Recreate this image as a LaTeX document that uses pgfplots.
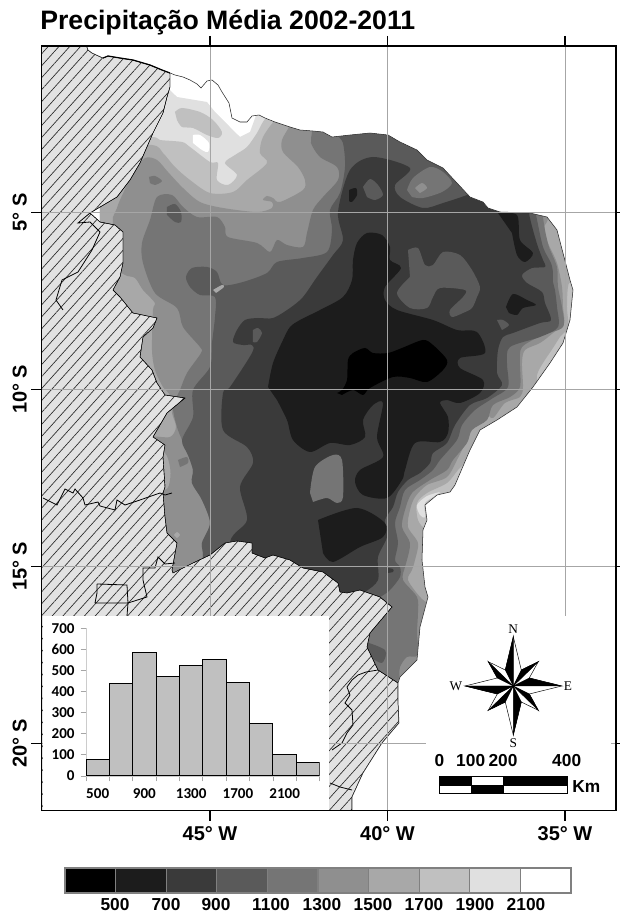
\documentclass[border=0pt]{standalone}
\usepackage{fontspec}
\setmainfont{Liberation Sans}
\newfontfamily\carlito{Carlito}
\newfontfamily\timesf{Liberation Serif}
\usepackage{pgfplots}
\pgfplotsset{compat=1.18}
\usetikzlibrary{patterns.meta}
\definecolor{c1}{HTML}{000000}
\definecolor{c2}{HTML}{1C1C1C}
\definecolor{c3}{HTML}{3A3A3A}
\definecolor{c4}{HTML}{5A5A5A}
\definecolor{c5}{HTML}{757575}
\definecolor{c6}{HTML}{8F8F8F}
\definecolor{c7}{HTML}{A8A8A8}
\definecolor{c8}{HTML}{C0C0C0}
\definecolor{c9}{HTML}{E0E0E0}
\definecolor{c10}{HTML}{FFFFFF}
\definecolor{hatchbg}{HTML}{E2E2E2}
\definecolor{hatchln}{HTML}{2A2A2A}
\definecolor{gridc}{HTML}{A6A6A6}
% positions on the picture are converted to degrees of longitude and latitude
\pgfplotsset{map/.style={x filter/.expression={-45+(x-210)/35.5},y filter/.expression={-5-(y-212.3)/35.4}}}
\newcommand\R[2]{\addplot[fill=#1,draw=none,map,smooth,tension=0.5] coordinates {#2} --cycle;}
\newcommand\Q[2]{\addplot[fill=#1,draw=none,map] coordinates {#2} --cycle;}
\newcommand\K[2]{\addplot[fill=#1,draw=black,line width=0.35pt,map] coordinates {#2} --cycle;}
\newcommand\B[1]{\addplot[draw=black,line width=0.6pt,map] coordinates {#1};}
\begin{document}
\begin{tikzpicture}
\useasboundingbox (0,0) rectangle (465pt,684.75pt);
\begin{axis}[
  at={(31.125pt,76.725pt)},anchor=south west,scale only axis,
  width=430.875pt,height=573.525pt,
  xmin=-49.7465,xmax=-33.563,ymin=-21.904,ymax=-0.302,
  axis on top,
  axis line style={line width=1.2pt,black},
  xtick={-45,-40,-35},xticklabels={45° W,40° W,35° W},
  ytick={-20,-15,-10,-5},yticklabels={20° S,15° S,10° S,5° S},
  tick align=outside,major tick length=7.5pt,
  tick style={line width=1.1pt,black},
  grid=major,grid style={draw=gridc,line width=0.5pt},
  xticklabel style={font=\fontsize{15}{17}\selectfont\bfseries,yshift=-1pt},
  yticklabel style={font=\fontsize{15}{17}\selectfont\bfseries,rotate=90,anchor=south,yshift=0pt},
]
% rainfall bands, driest on top
\Q{c9}{(100,90)(170,90)(177,97)(207,102)(215,112)(230,127)(240,137)(250,132)(258,110)(650,110)(650,760)(100,760)}
\R{c8}{(100,137)(152,137)(160,140)(182,142)(190,147)(210,162)(218,163)(217,180)(228,185)(237,175)(225,163)(235,155)(247,147)(257,133)(268,116)(300,100)(650,100)(650,760)(100,760)}
\R{c7}{(100,145)(152,145)(163,153)(175,167)(190,180)(210,193)(233,192)(247,180)(267,163)(260,153)(263,137)(277,118)(300,100)(650,100)(600,250)(572,280)(568,287)(567,307)(568,327)(560,337)(553,348)(543,363)(537,375)(535,395)(500,420)(490,430)(478,437)(477,443)(470,457)(458,470)(447,483)(427,493)(417,503)(418,520)(427,530)(450,535)(450,760)(100,760)}
\R{c6}{(117,208)(120,200)(133,173)(145,158)(157,160)(168,172)(183,188)(200,202)(223,208)(257,212)(272,208)(272,202)(263,200)(267,196)(273,198)(280,202)(303,190)(305,180)(298,167)(283,152)(282,140)(290,125)(300,100)(450,130)(540,190)(548,217)(544,228)(548,243)(557,263)(562,287)(563,307)(564,323)(553,333)(540,343)(525,350)(522,363)(523,387)(520,397)(505,403)(493,418)(485,413)(473,420)(468,437)(458,458)(447,477)(427,485)(415,497)(410,510)(408,527)(418,543)(415,560)(412,570)(408,580)(420,597)(430,605)(450,620)(450,760)(140,760)(140,490)(165,490)(170,480)(170,467)(165,453)(150,450)(150,437)(170,437)(176,427)(172,413)(170,395)(163,387)(155,370)(152,350)(153,310)(155,303)(143,290)(135,278)(125,275)(113,263)(113,217)}
\R{c5}{(200,600)(203,557)(202,543)(210,523)(202,500)(192,483)(193,470)(188,455)(182,440)(177,427)(173,407)(180,390)(187,373)(201,353)(200,347)(183,327)(177,308)(155,293)(143,263)(142,243)(150,220)(157,197)(172,195)(183,207)(197,217)(217,217)(225,227)(228,237)(257,243)(270,252)(277,240)(287,245)(303,247)(307,233)(313,210)(323,197)(338,180)(337,167)(320,157)(311,143)(312,131)(312,100)(450,130)(540,190)(543,217)(545,230)(549,247)(557,267)(558,287)(562,307)(563,327)(543,335)(522,347)(520,363)(520,387)(510,397)(493,405)(487,420)(472,430)(467,443)(453,460)(447,470)(430,480)(412,493)(405,510)(402,527)(410,543)(407,560)(405,567)(403,580)(417,597)(418,613)(417,633)(418,655)(407,657)(400,667)(395,685)(350,720)(200,700)}
\R{c4}{(200,600)(203,557)(202,543)(210,523)(202,500)(192,483)(193,470)(188,455)(182,440)(193,417)(193,390)(210,367)(212,343)(215,317)(215,297)(200,295)(190,287)(186,277)(192,268)(207,267)(217,272)(223,285)(243,282)(267,273)(277,262)(303,258)(327,252)(332,230)(330,210)(340,193)(345,167)(343,143)(335,120)(450,120)(530,190)(536,215)(543,247)(551,263)(553,273)(553,282)(555,290)(557,307)(558,327)(540,337)(510,347)(507,363)(508,387)(493,398)(475,410)(462,425)(457,440)(440,460)(433,470)(420,480)(405,490)(400,507)(395,523)(398,543)(395,560)(400,567)(400,577)(390,590)(380,597)(370,600)(340,640)(200,640)}
\R{c3}{(230,600)(230,542)(247,520)(240,487)(253,463)(247,447)(223,430)(223,393)(230,387)(252,353)(252,345)(243,345)(233,342)(237,330)(245,320)(258,318)(273,318)(290,308)(303,297)(317,277)(333,255)(343,240)(338,212)(350,170)(373,157)(410,168)(395,185)(400,197)(423,208)(443,203)(467,195)(475,190)(500,195)(528,195)(529,213)(533,230)(538,247)(543,260)(545,267)(532,268)(522,275)(527,283)(542,292)(545,303)(551,320)(540,323)(513,333)(503,337)(498,350)(497,373)(502,385)(487,398)(470,405)(455,425)(447,443)(433,453)(430,463)(420,473)(408,480)(398,492)(393,507)(385,520)(387,537)(378,557)(378,580)(365,592)(350,600)(300,620)}
\R{c2}{(268,387)(273,363)(283,340)(290,327)(300,320)(320,310)(343,297)(352,280)(353,260)(357,243)(367,233)(382,235)(390,247)(390,260)(401,268)(385,287)(385,300)(397,310)(433,320)(457,330)(477,332)(485,353)(460,358)(460,368)(483,380)(480,393)(460,403)(447,400)(440,403)(448,417)(448,433)(440,442)(415,443)(405,470)(402,480)(387,498)(363,495)(355,482)(360,470)(383,457)(377,437)(383,403)(373,405)(363,420)(365,437)(350,445)(330,443)(310,452)(293,440)(287,420)(277,400)}
\R{c2}{(318,520)(357,508)(385,523)(383,537)(360,547)(333,562)(323,553)}
\R{c2}{(506,307)(513,294)(527,300)(536,305)(523,308)(517,315)(509,313)}
\R{c2}{(498,213)(517,215)(520,240)(533,253)(525,262)(517,255)(512,233)}
\R{c2}{(349,190)(356,188)(357,195)(352,202)(349,201)}
\R{c1}{(337,393)(342,390)(347,380)(348,360)(353,353)(365,348)(373,353)(388,353)(402,348)(423,340)(433,345)(447,360)(443,370)(427,382)(410,378)(393,377)(370,388)(363,395)(353,390)(342,395)}
% wetter islands
\R{c5}{(310,493)(315,467)(333,455)(342,460)(343,497)(337,503)(327,498)(313,502)}
\R{c4}{(408,250)(418,248)(425,265)(433,265)(443,252)(460,255)(472,270)(480,287)(477,297)(472,308)(463,313)(452,317)(450,310)(463,297)(465,290)(440,288)(433,297)(427,308)(410,308)(397,293)(410,277)}
\R{c5}{(407,190)(413,178)(430,167)(443,172)(452,183)(442,192)(423,198)(412,197)}
\R{c6}{(415,188)(422,183)(427,188)(420,193)}
\R{c4}{(363,187)(370,179)(378,185)(383,195)(375,200)(367,197)}
\R{c4}{(497,320)(503,320)(509,325)(502,330)}
\R{c5}{(149,177)(155,176)(162,181)(155,185)(150,183)}
\R{c4}{(167,207)(175,204)(181,212)(181,222)(175,222)(167,215)}
\R{c7}{(213,290)(222,285)(224,287)(216,293)}
\R{c4}{(253,330)(258,328)(262,333)(257,342)(253,342)}
\R{c7}{(174,535)(177,532)(180,535)(177,538)}
\R{c5}{(178,460)(187,457)(188,463)(180,467)}
\R{c4}{(360,640)(385,650)(382,663)(370,657)}
\R{c3}{(387,568)(393,569)(393,572)(387,573)}
\R{c9}{(440,492)(427,496)(417,505)(420,515)(425,517)(425,503)(437,495)}
\R{c8}{(175,112)(182,108)(200,112)(213,120)(222,132)(218,138)(207,135)(193,128)(182,127)(177,120)}
\R{c10}{(193,135)(200,135)(209,143)(208,152)(202,150)(193,143)}
% land outside the region
\addplot[map,draw=black,line width=0.3pt,preaction={fill=hatchbg},
  pattern={Lines[angle=48,distance=6pt,line width=0.5pt]},pattern color=hatchln]
 coordinates {(38,44)(86,44)(88,50)(92,53)(103,58)(108,56)(120,58)(133,60)(150,65)(162,70)(170,73)(170,87)(167,97)(163,113)(153,133)(140,163)(130,180)(117,197)(90,213)(100,222)(115,225)(123,232)(123,263)(120,277)(113,290)(120,297)(133,313)(157,318)(153,328)(143,337)(140,357)(152,370)(157,383)(165,395)(185,398)(167,413)(153,437)(165,445)(163,457)(165,487)(163,493)(165,517)(167,533)(177,543)(172,570)(173,573)(193,563)(210,555)(225,543)(237,541)(252,543)(252,553)(265,558)(273,555)(290,560)(303,568)(323,572)(338,583)(340,592)(347,593)(360,590)(380,597)(392,607)(370,633)(367,647)(378,670)(398,683)(398,700)(399,723)(382,743)(363,773)(352,797)(352,814)(38,814)} --cycle;
% sea
\addplot[map,fill=white,draw=black!85,line width=0.4pt]
 coordinates {(86,44)(88,50)(92,53)(103,58)(108,56)(120,58)(133,60)(150,65)(162,70)(170,73)(175,75)(183,77)(190,80)(197,84)(201,88)(207,81)(212,80)(218,85)(222,92)(229,103)(232,118)(240,122)(247,122)(252,116)(259,115)(265,118)(275,122)(290,127)(300,130)(313,131)(323,132)(332,137)(350,135)(370,133)(388,135)(400,142)(417,150)(427,160)(443,168)(457,183)(470,197)(483,202)(488,208)(500,212)(530,213)(547,217)(557,230)(563,253)(570,280)(573,290)(570,320)(563,343)(550,363)(533,387)(517,407)(497,420)(480,430)(470,450)(455,485)(450,492)(437,495)(425,505)(427,520)(423,530)(422,560)(425,587)(428,597)(420,627)(417,660)(400,677)(398,683)(398,700)(399,723)(382,743)(363,773)(352,797)(352,814)(622,814)(622,42)(86,42)} --cycle;
% coast detail and state lines
\addplot[map,draw=black,line width=0.9pt] coordinates {(103,58)(108,56)(120,58)(133,60)(150,65)(162,70)(170,73)};
\B{(43,498)(57,505)(65,489)(73,493)(75,489)(83,498)(85,505)(98,502)(100,506)(115,510)(117,500)(125,505)(140,500)(160,493)(165,495)(172,493)}
\B{(175,563)(165,564)(158,557)(155,568)(143,568)(143,580)(147,597)(128,603)(127,616)}
\B{(97,584)(127,585)(128,603)(95,603)(97,593)(97,584)}
\B{(90,213)(78,223)(90,222)(100,232)(92,250)(78,272)(62,280)(56,300)(63,310)}
\B{(378,670)(366,672)(358,675)(352,680)(347,687)(350,695)(345,703)(352,710)(353,725)(347,733)(342,743)(332,750)}
\B{(330,783)(340,787)(352,790)}
\end{axis}
% overlay: white panels, compass, scale bar
\begin{axis}[
  at={(31.125pt,76.725pt)},anchor=south west,scale only axis,
  width=430.875pt,height=573.525pt,
  xmin=-49.7465,xmax=-33.563,ymin=-21.904,ymax=-0.302,
  hide axis,
]
\Q{white}{(42.6,616)(329,616)(329,809.7)(42.6,809.7)}
\Q{white}{(426,616)(611,616)(611,809.7)(426,809.7)}
\K{white}{(513.3,636.7)(521.3,670)(538.3,661.7)(529.3,678)(561.7,686)(529.3,694)(538.3,710.3)(521.3,702)(513.3,735)(505.3,702)(488.3,710.3)(497.3,694)(465,686)(497.3,678)(488.3,661.7)(505.3,670)}
\K{black}{(513.3,686)(513.3,636.7)(505.3,670)}
\K{black}{(513.3,686)(561.7,686)(529.3,678)}
\K{black}{(513.3,686)(513.3,735)(521.3,702)}
\K{black}{(513.3,686)(465,686)(497.3,694)}
\K{black}{(513.3,686)(538.3,661.7)(521.3,670)}
\K{black}{(513.3,686)(538.3,710.3)(529.3,694)}
\K{black}{(513.3,686)(488.3,710.3)(505.3,702)}
\K{black}{(513.3,686)(488.3,661.7)(497.3,678)}
\K{black}{(439.3,776.7)(471.3,776.7)(471.3,785.3)(439.3,785.3)}
\K{white}{(471.3,776.7)(503.3,776.7)(503.3,785.3)(471.3,785.3)}
\K{black}{(503.3,776.7)(567.3,776.7)(567.3,785.3)(503.3,785.3)}
\K{white}{(439.3,785.3)(471.3,785.3)(471.3,793.7)(439.3,793.7)}
\K{black}{(471.3,785.3)(503.3,785.3)(503.3,793.7)(471.3,793.7)}
\K{white}{(503.3,785.3)(567.3,785.3)(567.3,793.7)(503.3,793.7)}
\end{axis}
% histogram
\begin{axis}[
  at={(64.5pt,102.75pt)},anchor=south west,scale only axis,
  width=175.275pt,height=110.775pt,
  xmin=400,xmax=2400,ymin=0,ymax=700,
  axis x line*=bottom,axis y line*=left,
  axis line style={draw=black!20,line width=0.6pt,-},
  xtick={500,900,1300,1700,2100},
  minor xtick={400,600,800,1000,1200,1400,1600,1800,2000,2200,2400},
  ytick={0,100,200,300,400,500,600,700},
  tick align=outside,
  major tick length=4pt,minor tick length=4pt,
  tick style={draw=black!35,line width=0.6pt},
  major x tick style={draw=none},
  ticklabel style={font=\fontsize{11.3}{13}\selectfont\carlito\bfseries},
  xticklabel style={yshift=-2pt},
  yticklabel style={xshift=-1pt},
  /pgf/number format/assume math mode=true,
  /pgf/number format/1000 sep={},
]
\addplot[ybar interval,fill=c8,draw=black,line width=0.8pt] coordinates {(400,80)(600,440)(800,585)(1000,470)(1200,525)(1400,550)(1600,445)(1800,248)(2000,102)(2200,65)(2400,65)};
\end{axis}
% class bar
\begin{axis}[
  at={(48.75pt,15pt)},anchor=south west,scale only axis,
  width=379.5pt,height=18.75pt,
  xmin=300,xmax=2300,ymin=0,ymax=1,
  axis lines=none,
  clip=false,
  ytick=\empty,
]
\addplot[fill=c1,draw=gray,line width=1pt] coordinates {(300,0)(300,1)(500,1)(500,0)} --cycle;
\addplot[fill=c2,draw=gray,line width=1pt] coordinates {(500,0)(500,1)(700,1)(700,0)} --cycle;
\addplot[fill=c3,draw=gray,line width=1pt] coordinates {(700,0)(700,1)(900,1)(900,0)} --cycle;
\addplot[fill=c4,draw=gray,line width=1pt] coordinates {(900,0)(900,1)(1100,1)(1100,0)} --cycle;
\addplot[fill=c5,draw=gray,line width=1pt] coordinates {(1100,0)(1100,1)(1300,1)(1300,0)} --cycle;
\addplot[fill=c6,draw=gray,line width=1pt] coordinates {(1300,0)(1300,1)(1500,1)(1500,0)} --cycle;
\addplot[fill=c7,draw=gray,line width=1pt] coordinates {(1500,0)(1500,1)(1700,1)(1700,0)} --cycle;
\addplot[fill=c8,draw=gray,line width=1pt] coordinates {(1700,0)(1700,1)(1900,1)(1900,0)} --cycle;
\addplot[fill=c9,draw=gray,line width=1pt] coordinates {(1900,0)(1900,1)(2100,1)(2100,0)} --cycle;
\addplot[fill=c10,draw=gray,line width=1pt] coordinates {(2100,0)(2100,1)(2300,1)(2300,0)} --cycle;
\end{axis}
% texts, given in picture pixels
\begin{scope}[shift={(0pt,684.75pt)},x=0.75pt,y=-0.75pt]
\node[anchor=base west,inner sep=0pt,font=\fontsize{20}{22}\selectfont\bfseries] at (40,30) {Precipitação Média 2002-2011};
\foreach \xx/\tt in {115/500,166/700,216/900,271/1100,322/1300,373/1500,424/1700,475/1900,526/2100}
  \node[anchor=base,inner sep=0pt,font=\fontsize{13}{15}\selectfont\bfseries] at (\xx,910.5) {\tt};
\foreach \xx/\tt in {439.5/0,470.7/100,503/200,566.7/400}
  \node[anchor=base,inner sep=0pt,font=\fontsize{13}{15}\selectfont\bfseries] at (\xx,766.5) {\tt};
\node[anchor=base west,inner sep=0pt,font=\fontsize{13}{15}\selectfont\bfseries] at (572,793) {Km};
\node[inner sep=0pt,font=\fontsize{10}{11}\selectfont\timesf] at (513.3,629.5) {N};
\node[inner sep=0pt,font=\fontsize{10}{11}\selectfont\timesf] at (513.3,743) {S};
\node[inner sep=0pt,font=\fontsize{10}{11}\selectfont\timesf] at (456,686) {W};
\node[inner sep=0pt,font=\fontsize{10}{11}\selectfont\timesf] at (568,686.5) {E};
\end{scope}
\end{tikzpicture}
\end{document}
